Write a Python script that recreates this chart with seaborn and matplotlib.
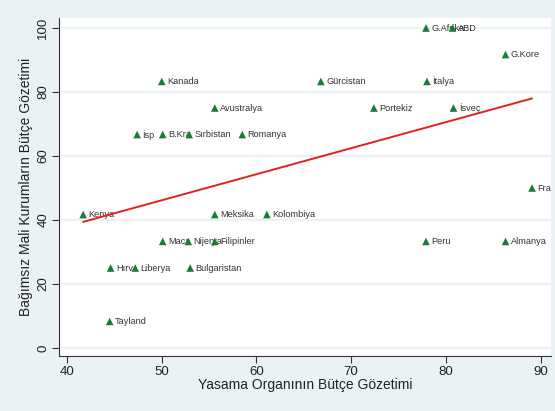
import matplotlib
matplotlib.use("Agg")
import matplotlib.pyplot as plt
import seaborn as sns
import pandas as pd
import numpy as np

countries = ["Kanada", "Avustralya", "İsp", "B.Kra", "Sırbistan", "Romanya",
             "G.Afrika", "ABD", "G.Kore", "Gürcistan", "İtalya", "Portekiz",
             "İsveç", "Fransa", "Peru", "Almanya", "Kenya", "Meksika",
             "Kolombiya", "Maca", "Nijerya", "Filipinler", "Hırv", "Liberya",
             "Bulgaristan", "Tayland"]
legislature = [50.0, 55.6, 47.4, 50.1, 52.9, 58.5,
               77.9, 80.7, 86.3, 66.8, 78.0, 72.4,
               80.8, 89.1, 77.9, 86.3, 41.7, 55.6,
               61.1, 50.1, 52.8, 55.6, 44.6, 47.2,
               53.0, 44.5]
ifi = [83.3, 75.0, 66.7, 66.7, 66.7, 66.7,
       100.0, 100.0, 91.7, 83.3, 83.3, 75.0,
       75.0, 50.0, 33.3, 33.3, 41.7, 41.7,
       41.7, 33.3, 33.3, 33.3, 25.0, 25.0,
       25.0, 8.3]
x_ticks = [40, 50, 60, 70, 80, 90]
y_ticks = [0, 20, 40, 60, 80, 100]

df = pd.DataFrame({"country": countries, "x": legislature, "y": ifi})

sns.set_theme(style="white")
plt.rcParams["font.family"] = ["Liberation Sans", "DejaVu Sans"]

bg = "#eaf2f3"
fig = plt.figure(figsize=(5.55, 4.11), dpi=100, facecolor=bg)
ax = fig.add_axes([0.1063, 0.1338, 0.8865, 0.8222])
ax.set_facecolor("white")

for yt in y_ticks:
    ax.axhline(yt, color=bg, lw=1.6, zorder=0)

for _, r in df.iterrows():
    ax.text(r.x + 0.55, r.y, r.country, fontsize=6.6, color="#333333",
            va="center", ha="left", clip_on=True, zorder=2)

sns.scatterplot(data=df, x="x", y="y", marker="^", color="#1a7a3c", s=30,
                edgecolor="none", ax=ax, zorder=3)
sns.regplot(data=df, x="x", y="y", scatter=False, ci=None, truncate=True,
            line_kws={"color": "#e8201c", "lw": 1.4, "zorder": 4}, ax=ax)

ax.set_xlim(39.15, 91.1)
ax.set_ylim(-2.5, 103.1)
ax.set_xticks(x_ticks)
ax.set_yticks(y_ticks)
ax.tick_params(axis="both", which="both", direction="out", length=5, width=0.8,
               color="#333333", labelsize=9.5, labelcolor="#222222", pad=2,
               bottom=True, left=True)
for lab in ax.get_yticklabels():
    lab.set_rotation(90)
    lab.set_va("center")

ax.set_xlabel("Yasama Organının Bütçe Gözetimi", fontsize=10, color="#222222", labelpad=0)
ax.set_ylabel("Bağımsız Mali Kurumların Bütçe Gözetimi", fontsize=10, color="#222222", labelpad=3)

for s in ["top", "right"]:
    ax.spines[s].set_visible(False)
for s in ["left", "bottom"]:
    ax.spines[s].set_color("#333333")
    ax.spines[s].set_linewidth(0.8)

fig.savefig("out.png", dpi=100, facecolor=bg)
